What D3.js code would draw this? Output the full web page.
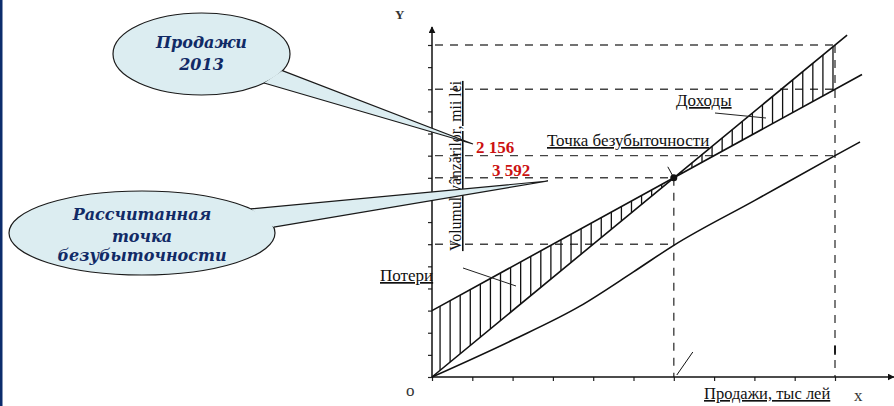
<!DOCTYPE html>
<html>
<head>
<meta charset="utf-8">
<script src="https://cdn.jsdelivr.net/npm/d3@7"></script>
<style>
  html, body { margin: 0; padding: 0; background: #fff; }
  svg { display: block; }
</style>
</head>
<body>
<svg id="chart" width="894" height="406"></svg>
<script>
// tick positions (no labels on the axes)
var xTicks = [0, 1, 2, 3, 4, 5, 6, 7, 8, 9, 10];
var yTicks = [0, 1, 2, 3, 4, 5, 6, 7, 8, 9, 10, 11, 12, 13, 14, 15];

// revenue line (доходы от продаж)
var revenueX = [0, 6, 10.3];
var revenueY = [0, 9, 15.45];

// total costs line
var costX = [0, 6, 10.67];
var costY = [3, 9, 13.67];

// variable costs line
var varX = [0, 2, 3.67, 5, 6, 8, 10, 10.62];
var varY = [0, 1.67, 3.2, 4.75, 5.95, 7.97, 10, 10.62];

// break-even point
var breakEven = [6, 9];

// dashed guides
var guideLevels = [15, 13, 10, 9, 6];
var guideEnds = [10, 10, 10, 6, 6];
var guideXs = [6, 10];
var guideTops = [9, 15];

// callout labels
var salesLabel = ["Продажи", "2013"];
var bepLabel = ["Рассчитанная", "точка", "безубыточности"];
var salesValue = "2 156";
var bepValue = "3 592";

var svg = d3.select("#chart");

var x = d3.scaleLinear().domain([0, 10]).range([432, 835]);
var y = d3.scaleLinear().domain([0, 15]).range([377, 45]);

// piecewise lines as interpolators
var revAt = d3.scaleLinear().domain(revenueX).range(revenueY);
var costAt = d3.scaleLinear().domain(costX).range(costY);

var serif = "'Liberation Serif', 'DejaVu Serif', serif";

// dark bar on the left edge
svg.append("rect")
    .attr("x", 0).attr("y", 0)
    .attr("width", 2.5).attr("height", 406)
    .attr("fill", "#0c2c6c");

// arrow head
svg.append("defs").append("marker")
    .attr("id", "arrow")
    .attr("viewBox", "0 0 10 10")
    .attr("refX", 9).attr("refY", 5)
    .attr("markerWidth", 7).attr("markerHeight", 7)
    .attr("markerUnits", "userSpaceOnUse")
    .attr("orient", "auto")
    .append("path")
    .attr("d", "M0,0L10,5L0,10z")
    .attr("fill", "#111");

// dashed guides
var guides = svg.append("g")
    .attr("stroke", "#444")
    .attr("stroke-width", 1.4)
    .attr("stroke-dasharray", "8,7");

guides.selectAll(".hguide")
    .data(guideLevels)
    .enter().append("line")
    .attr("class", "hguide")
    .attr("x1", x(0) + 3)
    .attr("x2", (d, i) => x(guideEnds[i]))
    .attr("y1", d => y(d))
    .attr("y2", d => y(d));

guides.selectAll(".vguide")
    .data(guideXs)
    .enter().append("line")
    .attr("class", "vguide")
    .attr("x1", d => x(d))
    .attr("x2", d => x(d))
    .attr("y1", (d, i) => y(guideTops[i]))
    .attr("y2", y(0));

// axes: ticks from d3, lines drawn with arrows
svg.append("g")
    .attr("transform", "translate(" + x(0) + ",0)")
    .call(d3.axisLeft(y).tickValues(yTicks).tickSize(4).tickFormat(""))
    .call(g => g.select(".domain").remove())
    .selectAll("line").attr("stroke", "#222").attr("stroke-width", 1.2);

svg.append("g")
    .attr("transform", "translate(0," + y(0) + ")")
    .call(d3.axisBottom(x).tickValues(xTicks).tickSize(4).tickFormat(""))
    .call(g => g.select(".domain").remove())
    .selectAll("line").attr("stroke", "#222").attr("stroke-width", 1.2);

svg.append("line")
    .attr("x1", x(0)).attr("y1", y(0))
    .attr("x2", x(0)).attr("y2", 27)
    .attr("stroke", "#111").attr("stroke-width", 1.5)
    .attr("marker-end", "url(#arrow)");

svg.append("line")
    .attr("x1", x(0)).attr("y1", y(0))
    .attr("x2", 894).attr("y2", y(0))
    .attr("stroke", "#111").attr("stroke-width", 1.5)
    .attr("marker-end", "url(#arrow)");

// vertical hatching between revenue and total costs
var hatchX = d3.range(0.2, 10.01, 0.25);
svg.append("g")
    .selectAll("line")
    .data(hatchX.filter(d => Math.abs(d - breakEven[0]) > 0.12))
    .enter().append("line")
    .attr("x1", d => x(d)).attr("x2", d => x(d))
    .attr("y1", d => y(revAt(d)))
    .attr("y2", d => y(costAt(d)))
    .attr("stroke", "#111")
    .attr("stroke-width", 1.3);

// the three lines
var line = d3.line().x(d => x(d[0])).y(d => y(d[1]));
var series = [
    { xs: revenueX, ys: revenueY, curve: d3.curveLinear },
    { xs: costX, ys: costY, curve: d3.curveLinear },
    { xs: varX, ys: varY, curve: d3.curveMonotoneX }
];
svg.selectAll(".series")
    .data(series)
    .enter().append("path")
    .attr("class", "series")
    .attr("fill", "none")
    .attr("stroke", "#111")
    .attr("stroke-width", 1.6)
    .attr("d", d => line.curve(d.curve)(d.xs.map((v, i) => [v, d.ys[i]])));

// break-even point
var bx = x(breakEven[0]), by = y(breakEven[1]);
svg.append("circle")
    .attr("cx", bx).attr("cy", by)
    .attr("r", 3.5)
    .attr("fill", "#111");
svg.append("line")
    .attr("x1", bx - 6).attr("y1", by - 11)
    .attr("x2", bx).attr("y2", by)
    .attr("stroke", "#111").attr("stroke-width", 1);

// small marks
svg.append("line")
    .attr("x1", bx + 3).attr("y1", y(0) - 2)
    .attr("x2", bx + 19).attr("y2", y(0) - 25)
    .attr("stroke", "#111").attr("stroke-width", 1);
svg.append("line")
    .attr("x1", x(10)).attr("y1", y(1.4))
    .attr("x2", x(10)).attr("y2", y(1.0))
    .attr("stroke", "#111").attr("stroke-width", 1.8);

// pointer lines for Доходы / Потери
svg.append("line")
    .attr("x1", 715).attr("y1", 113).attr("x2", 766).attr("y2", 118)
    .attr("stroke", "#222").attr("stroke-width", 1);
svg.append("line")
    .attr("x1", 463).attr("y1", 268).attr("x2", 516).attr("y2", 286)
    .attr("stroke", "#222").attr("stroke-width", 1);

// underlined labels
function label(txt, px, py, size) {
    return svg.append("text")
        .attr("x", px).attr("y", py)
        .attr("font-family", serif)
        .attr("font-size", size)
        .attr("fill", "#111")
        .style("text-decoration", "underline")
        .text(txt);
}
label("Доходы", 676, 106, 17);
label("Точка безубыточности", 547, 146, 17);
label("Потери", 380, 281, 17);
label("Продажи, тыс лей", 704, 399, 16.5);

svg.append("text")
    .attr("transform", "translate(461,166) rotate(-90)")
    .attr("text-anchor", "middle")
    .attr("font-family", serif)
    .attr("font-size", 15.8)
    .attr("fill", "#111")
    .style("text-decoration", "underline")
    .text("Volumul vânzărilor, mii lei");

// axis letters
svg.append("text").attr("x", 395).attr("y", 19)
    .attr("font-family", serif).attr("font-size", 13).attr("font-weight", "bold")
    .attr("fill", "#333").text("Y");
svg.append("text").attr("x", 406).attr("y", 396)
    .attr("font-family", serif).attr("font-size", 17)
    .attr("fill", "#333").text("o");
svg.append("text").attr("x", 854).attr("y", 401)
    .attr("font-family", serif).attr("font-size", 17)
    .attr("fill", "#333").text("x");

// speech-bubble callouts
function callout(cx, cy, rx, ry, a1, a2, tip, lines, baselines) {
    var g = svg.append("g");
    var p1 = [cx + rx * Math.cos(a1), cy + ry * Math.sin(a1)];
    var p2 = [cx + rx * Math.cos(a2), cy + ry * Math.sin(a2)];
    g.append("ellipse")
        .attr("cx", cx).attr("cy", cy)
        .attr("rx", rx).attr("ry", ry)
        .attr("fill", "#dcedf1")
        .attr("stroke", "#1a1a1a")
        .attr("stroke-width", 1.2);
    g.append("path")
        .attr("d", "M" + p1 + "L" + tip + "L" + p2)
        .attr("fill", "#dcedf1")
        .attr("stroke", "#1a1a1a")
        .attr("stroke-width", 1.2);
    g.selectAll("text")
        .data(lines)
        .enter().append("text")
        .attr("x", cx)
        .attr("y", (d, i) => baselines[i])
        .attr("text-anchor", "middle")
        .attr("font-family", "'DejaVu Serif', serif")
        .attr("font-style", "italic")
        .attr("font-weight", "bold")
        .attr("font-size", 16)
        .attr("fill", "#112a66")
        .text(d => d);
}
var deg = Math.PI / 180;
callout(201.5, 54, 88.5, 41, 24 * deg, 45 * deg, [473, 144], salesLabel, [48, 70]);
callout(142, 233, 133, 42, -35 * deg, -8 * deg, [548, 181], bepLabel, [220, 242, 261]);

// red values
svg.append("text").attr("x", 476).attr("y", 153)
    .attr("font-family", serif).attr("font-weight", "bold").attr("font-size", 17)
    .attr("fill", "#cc1111").text(salesValue);
svg.append("text").attr("x", 492).attr("y", 176)
    .attr("font-family", serif).attr("font-weight", "bold").attr("font-size", 17)
    .attr("fill", "#cc1111").text(bepValue);
</script>
</body>
</html>
